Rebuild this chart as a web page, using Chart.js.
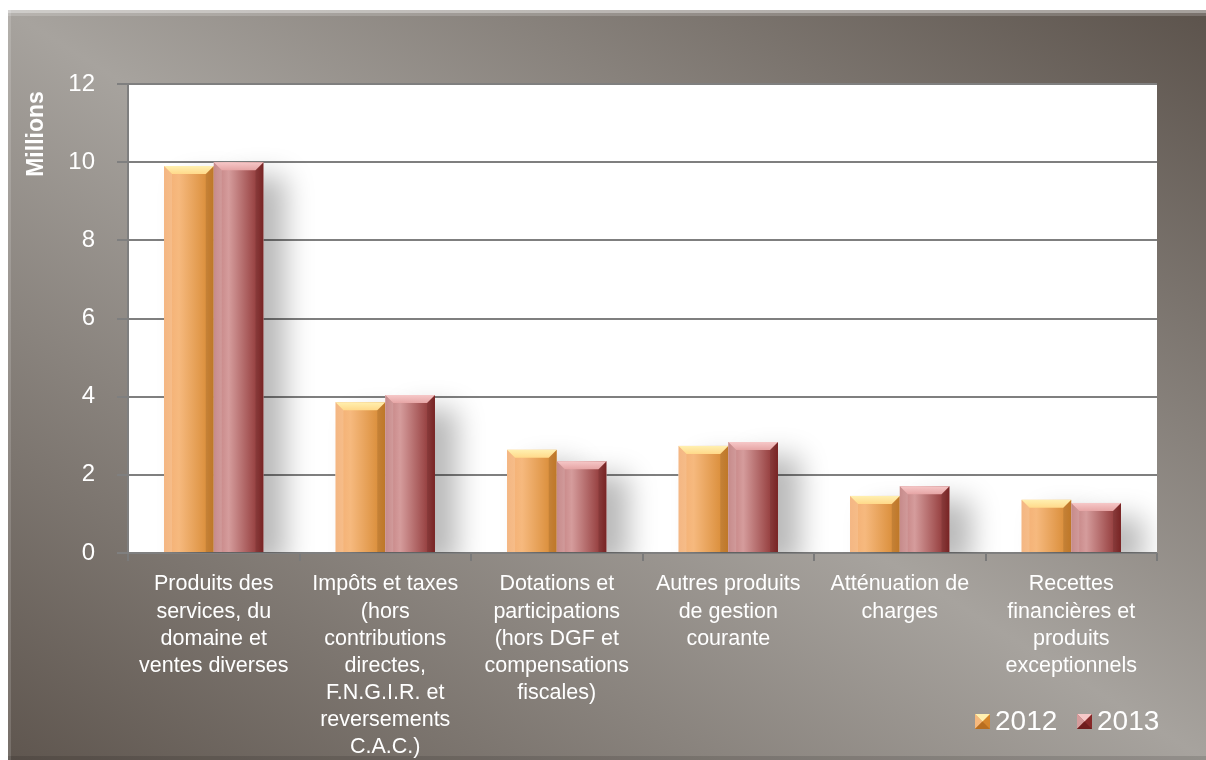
<!DOCTYPE html>
<html><head><meta charset="utf-8">
<script src="https://cdn.jsdelivr.net/npm/chart.js@4.4.1/dist/chart.umd.min.js"></script>
<style>html,body{margin:0;padding:0;background:#fff;}#wrap{width:1206px;height:760px;position:relative;}</style>
</head><body><div id="wrap"><canvas id="c" width="1206" height="760"></canvas></div>
<script>
const categories = [
  ["Produits des", "services, du", "domaine et", "ventes diverses"],
  ["Impôts et taxes", "(hors", "contributions", "directes,", "F.N.G.I.R. et", "reversements", "C.A.C.)"],
  ["Dotations et", "participations", "(hors DGF et", "compensations", "fiscales)"],
  ["Autres produits", "de gestion", "courante"],
  ["Atténuation de", "charges"],
  ["Recettes", "financières et", "produits", "exceptionnels"]
];
const values2012 = [9.90, 3.86, 2.64, 2.74, 1.46, 1.36];
const values2013 = [10.0, 4.04, 2.35, 2.84, 1.71, 1.28];
const seriesNames = ["2012", "2013"];
const yTicks = [0, 2, 4, 6, 8, 10, 12];
const axisTitle = "Millions";

const FONT = "'Liberation Sans', Arial, sans-serif";
const palettes = [
  {l:'#f3ad72', m:'#f6b97e', r:'#d4852c', top:'#ffd98a', topEdge:'#fff0b0', dark:'#b86e20'},
  {l:'#bf7b7b', m:'#d59c9c', r:'#862828', top:'#e6a5a5', topEdge:'#f6c8c8', dark:'#6e1c1c'}
];

const bgPlugin = {
  id: 'bg',
  beforeDraw(chart) {
    const ctx = chart.ctx;
    ctx.save();
    ctx.fillStyle = '#ffffff';
    ctx.fillRect(0, 0, chart.width, chart.height);
    const g = ctx.createLinearGradient(270, 924, 944, -154);
    g.addColorStop(0, '#5f564f');
    g.addColorStop(0.5, '#a7a39e');
    g.addColorStop(1, '#5c534c');
    ctx.fillStyle = g;
    ctx.fillRect(8, 10, 1198, 750);
    ctx.fillStyle = 'rgba(255,255,255,0.45)';
    ctx.fillRect(8, 10, 1198, 3);
    ctx.fillStyle = 'rgba(255,255,255,0.18)';
    ctx.fillRect(8, 13, 1198, 3);
    ctx.fillStyle = 'rgba(255,255,255,0.15)';
    ctx.fillRect(8, 10, 3, 750);
    ctx.fillStyle = 'rgba(0,0,0,0.12)';
    ctx.fillRect(8, 756, 1198, 4);
    const a = chart.chartArea;
    ctx.fillStyle = '#ffffff';
    ctx.fillRect(a.left, a.top, a.right - a.left, a.bottom - a.top);
    ctx.restore();
  },
  afterDatasetsDraw(chart) {
    const ctx = chart.ctx;
    const a = chart.chartArea;
    ctx.save();
    ctx.beginPath();
    ctx.rect(a.left, a.top - 2, a.right - a.left, a.bottom - a.top + 2);
    ctx.clip();
    chart.data.datasets.forEach((ds, di) => {
      chart.getDatasetMeta(di).data.forEach(el => {
        const x0 = el.x - el.width / 2, x1 = el.x + el.width / 2;
        ctx.save();
        ctx.shadowColor = 'rgba(0,0,0,0.28)';
        ctx.shadowBlur = 28;
        ctx.shadowOffsetX = 22;
        ctx.shadowOffsetY = 14;
        ctx.fillStyle = '#ffffff';
        ctx.fillRect(x0, el.y, x1 - x0, el.base - el.y);
        ctx.restore();
      });
    });
    chart.data.datasets.forEach((ds, di) => {
      const p = palettes[di];
      chart.getDatasetMeta(di).data.forEach(el => {
        const x0 = el.x - el.width / 2, x1 = el.x + el.width / 2;
        const y = el.y, b = el.base, w = x1 - x0;
        const g = ctx.createLinearGradient(x0, 0, x1, 0);
        g.addColorStop(0, p.l); g.addColorStop(0.3, p.m); g.addColorStop(1, p.r);
        ctx.fillStyle = g;
        ctx.fillRect(x0, y, w, b - y);
        const bv = 8;
        ctx.fillStyle = 'rgba(255,255,255,0.12)';
        ctx.beginPath(); ctx.moveTo(x0, y); ctx.lineTo(x0 + bv, y + bv); ctx.lineTo(x0 + bv, b); ctx.lineTo(x0, b); ctx.closePath(); ctx.fill();
        ctx.fillStyle = 'rgba(0,0,0,0.10)';
        ctx.beginPath(); ctx.moveTo(x1, y); ctx.lineTo(x1 - bv, y + bv); ctx.lineTo(x1 - bv, b); ctx.lineTo(x1, b); ctx.closePath(); ctx.fill();
        const tg = ctx.createLinearGradient(0, y, 0, y + bv);
        tg.addColorStop(0, p.topEdge); tg.addColorStop(1, p.top);
        ctx.fillStyle = tg;
        ctx.beginPath(); ctx.moveTo(x0, y); ctx.lineTo(x1, y); ctx.lineTo(x1 - bv, y + bv); ctx.lineTo(x0 + bv, y + bv); ctx.closePath(); ctx.fill();
      });
    });
    ctx.restore();
  },
  afterDraw(chart) {
    const ctx = chart.ctx;
    ctx.save();
    ctx.translate(37, 134);
    ctx.rotate(-Math.PI / 2);
    ctx.fillStyle = '#ffffff';
    ctx.font = 'bold 23px ' + FONT;
    ctx.textAlign = 'center';
    ctx.textBaseline = 'middle';
    ctx.fillText(axisTitle, 0, 0);
    ctx.restore();
    ctx.save();
    ctx.font = '28px ' + FONT;
    ctx.textBaseline = 'middle';
    const items = [{x: 975, di: 0}, {x: 1077, di: 1}];
    items.forEach(it => {
      const p = palettes[it.di];
      const s = 15, x = it.x, y = 714;
      ctx.fillStyle = p.r; ctx.fillRect(x, y, s, s);
      ctx.fillStyle = p.m;
      ctx.beginPath(); ctx.moveTo(x, y); ctx.lineTo(x + s/2, y + s/2); ctx.lineTo(x, y + s); ctx.closePath(); ctx.fill();
      ctx.fillStyle = p.topEdge;
      ctx.beginPath(); ctx.moveTo(x, y); ctx.lineTo(x + s, y); ctx.lineTo(x + s/2, y + s/2); ctx.closePath(); ctx.fill();
      ctx.fillStyle = p.dark;
      ctx.beginPath(); ctx.moveTo(x, y + s); ctx.lineTo(x + s, y + s); ctx.lineTo(x + s/2, y + s/2); ctx.closePath(); ctx.fill();
      ctx.fillStyle = '#ffffff';
      ctx.fillText(seriesNames[it.di], x + s + 5, y + s/2 + 1);
    });
    ctx.restore();
  }
};

new Chart(document.getElementById('c'), {
  type: 'bar',
  data: {
    labels: categories,
    datasets: [
      {label: seriesNames[0], data: values2012, backgroundColor: 'rgba(0,0,0,0)', borderWidth: 0},
      {label: seriesNames[1], data: values2013, backgroundColor: 'rgba(0,0,0,0)', borderWidth: 0}
    ]
  },
  options: {
    responsive: false,
    animation: false,
    events: [],
    layout: {padding: {left: 0, right: 49, top: 84, bottom: 0}},
    datasets: {bar: {categoryPercentage: 0.58, barPercentage: 1.0}},
    plugins: {legend: {display: false}, tooltip: {enabled: false}},
    scales: {
      x: {
        afterFit(s) { s.height = 207; },
        grid: {display: true, drawOnChartArea: false, offset: true, tickLength: 8, color: '#7a7a7a', lineWidth: 2},
        border: {display: false},
        ticks: {color: '#ffffff', font: {family: FONT, size: 21.5, lineHeight: 1.26}, padding: 10, maxRotation: 0, autoSkip: false}
      },
      y: {
        min: 0, max: 12,
        afterFit(s) { s.width = 128; },
        afterBuildTicks(s) { s.ticks = yTicks.map(v => ({value: v})); },
        grid: {color: '#7f7f7f', lineWidth: 2, tickLength: 11},
        border: {display: true, color: '#7f7f7f', width: 2},
        ticks: {color: '#ffffff', font: {family: FONT, size: 24}, padding: 22}
      }
    }
  },
  plugins: [bgPlugin]
});
</script>
</body></html>
